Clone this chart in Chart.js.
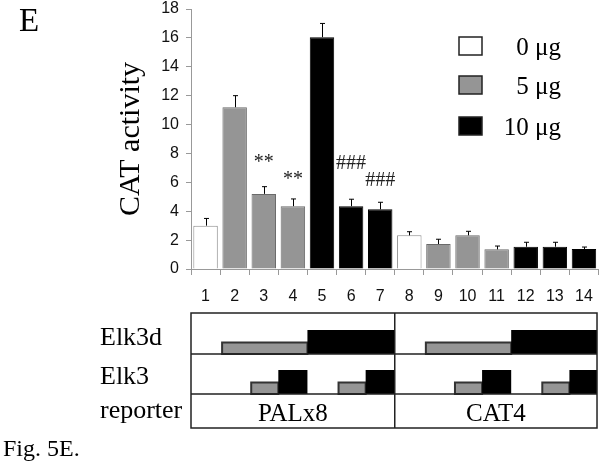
<!DOCTYPE html>
<html>
<head>
    <title>Fig. 5E</title>
    <script src="https://cdn.jsdelivr.net/npm/chart.js@4.4.0/dist/chart.umd.min.js"></script>
    <style>
        body { margin: 0; background: #fff; }
        #wrap { width: 605px; height: 464px; }
    </style>
</head>
<body>
<div id="wrap"><canvas id="grafico" width="605" height="464"></canvas></div>
<script>
    // lanes and values
    var lanes = ['1', '2', '3', '4', '5', '6', '7', '8', '9', '10', '11', '12', '13', '14'];
    var doses = [0, 5, 5, 5, 10, 10, 10, 0, 5, 5, 5, 10, 10, 10];
    var catActivity = [3.0, 11.2, 5.2, 4.35, 16.05, 4.35, 4.13, 2.33, 1.73, 2.33, 1.36, 1.54, 1.54, 1.38];
    var erros = [0.5, 0.8, 0.5, 0.5, 0.95, 0.48, 0.49, 0.25, 0.33, 0.28, 0.23, 0.31, 0.31, 0.14];
    var marcas = ['', '', '**', '**', '', '###', '###', '', '', '', '', '', '', ''];
    var alturaMarcas = [null, null, 7.5, 6.3, null, 7.3, 6.1, null, null, null, null, null, null, null];
    var doseValores = [0, 5, 10];
    var doseNomes = ['0 \u03bcg', '5 \u03bcg', '10 \u03bcg'];
    var yTicks = [0, 2, 4, 6, 8, 10, 12, 14, 16, 18];
    // diagram rows: 0 none, 1 = 5 ug (gray), 2 = 10 ug (black)
    var elk3d = [0, 1, 1, 1, 2, 2, 2, 0, 1, 1, 1, 2, 2, 2];
    var elk3 = [0, 0, 1, 2, 0, 1, 2, 0, 0, 1, 2, 0, 1, 2];
    var reporters = ['PALx8', 'CAT4'];

    var cores = ['#ffffff', '#959595', '#000000'];
    var bordas = ['#8a8a8a', '#6a6a6a', '#000000'];
    var serif = '"Liberation Serif", "Times New Roman", serif';
    var sans = '"Liberation Sans", Arial, sans-serif';

    var datasets = doseValores.map(function (d, k) {
        return {
            label: doseNomes[k],
            data: catActivity.map(function (v, i) { return doses[i] === d ? v : null; }),
            backgroundColor: cores[k],
            borderColor: bordas[k],
            borderWidth: 1,
            barPercentage: 0.84,
            categoryPercentage: 1
        };
    });

    var desenhos = {
        id: 'desenhos',
        afterDatasetsDraw: function (chart) {
            var ctx = chart.ctx;
            var x = chart.scales.x, y = chart.scales.y;
            ctx.save();
            // error bars
            ctx.strokeStyle = '#000';
            ctx.lineWidth = 1;
            catActivity.forEach(function (v, i) {
                var px = Math.round(x.getPixelForValue(i)) + 0.5;
                var top = y.getPixelForValue(v + erros[i]);
                ctx.beginPath();
                ctx.moveTo(px, y.getPixelForValue(v));
                ctx.lineTo(px, top);
                ctx.moveTo(px - 2.5, top);
                ctx.lineTo(px + 2.5, top);
                ctx.stroke();
            });
            // significance marks
            ctx.fillStyle = '#222';
            ctx.font = '20px ' + serif;
            ctx.textAlign = 'center';
            ctx.textBaseline = 'middle';
            marcas.forEach(function (m, i) {
                if (!m) return;
                var py = y.getPixelForValue(alturaMarcas[i]);
                ctx.fillText(m, x.getPixelForValue(i), m === '**' ? py + 2 : py);
            });
            ctx.restore();
        },
        afterDraw: function (chart) {
            var ctx = chart.ctx;
            var x = chart.scales.x;
            var area = chart.chartArea;
            var w = (area.right - area.left) / lanes.length;
            ctx.save();
            ctx.fillStyle = '#000';
            ctx.textBaseline = 'alphabetic';

            // panel letter and caption
            ctx.font = '33px ' + serif;
            ctx.textAlign = 'left';
            ctx.fillText('E', 19, 31);
            ctx.font = '24px ' + serif;
            ctx.fillText('Fig. 5E.', 3, 456);

            // legend
            var legY = [46, 85, 126];
            doseNomes.forEach(function (n, k) {
                ctx.fillStyle = cores[k];
                ctx.fillRect(459, legY[k] - 9, 23, 18);
                ctx.strokeStyle = '#222';
                ctx.lineWidth = 1.5;
                ctx.strokeRect(459, legY[k] - 9, 23, 18);
                ctx.fillStyle = '#000';
                ctx.font = '25px ' + serif;
                ctx.textAlign = 'right';
                ctx.fillText(n, 561, legY[k] + 9);
            });

            // diagram table
            var left = x.getPixelForValue(0) - w / 2;
            var right = x.getPixelForValue(lanes.length - 1) + w / 2 - 1.5;
            var mid = x.getPixelForValue(6) + w / 2;
            var rows = [313, 354, 394, 428];
            ctx.font = '26px ' + serif;
            ctx.textAlign = 'left';
            ctx.fillText('Elk3d', 100, 345);
            ctx.fillText('Elk3', 100, 384);
            ctx.fillText('reporter', 100, 418);

            function faixa(arr, base) {
                var i = 0;
                while (i < arr.length) {
                    var t = arr[i];
                    var j = i;
                    while (j + 1 < arr.length && arr[j + 1] === t && (j + 1) % 7 !== 0) j++;
                    if (t > 0) {
                        var x0 = x.getPixelForValue(i) - w / 2;
                        var x1 = x.getPixelForValue(j) + w / 2;
                        if (t === 1) {
                            ctx.fillStyle = cores[1];
                            ctx.fillRect(x0 + 2, base - 11.5, x1 - x0 - 2, 11.5);
                            ctx.strokeStyle = '#333';
                            ctx.lineWidth = 2;
                            ctx.strokeRect(x0 + 2, base - 11.5, x1 - x0 - 2, 11.5);
                        } else {
                            ctx.fillStyle = '#000';
                            ctx.fillRect(x0, base - 24, Math.min(x1, right) - x0, 24);
                        }
                    }
                    i = j + 1;
                }
            }
            faixa(elk3d, rows[1]);
            faixa(elk3, rows[2]);

            ctx.strokeStyle = '#222';
            ctx.lineWidth = 1.5;
            ctx.strokeRect(left, rows[0], right - left, rows[3] - rows[0]);
            ctx.beginPath();
            ctx.moveTo(left, rows[1]); ctx.lineTo(right, rows[1]);
            ctx.moveTo(left, rows[2]); ctx.lineTo(right, rows[2]);
            ctx.moveTo(mid, rows[0]); ctx.lineTo(mid, rows[3]);
            ctx.stroke();

            ctx.fillStyle = '#000';
            ctx.font = '25px ' + serif;
            ctx.textAlign = 'center';
            ctx.fillText(reporters[0], (left + mid) / 2, 421);
            ctx.fillText(reporters[1], (mid + right) / 2, 421);
            ctx.restore();
        }
    };

    var ctx = document.getElementById('grafico').getContext('2d');
    var grafico = new Chart(ctx, {
        type: 'bar',
        data: { labels: lanes, datasets: datasets },
        options: {
            responsive: false,
            animation: false,
            devicePixelRatio: 1,
            layout: { padding: { left: 113, top: 9, right: 4, bottom: 0 } },
            plugins: {
                legend: { display: false },
                tooltip: { enabled: false }
            },
            scales: {
                x: {
                    stacked: true,
                    grid: { drawOnChartArea: false, drawTicks: true, tickLength: 6, color: '#999' },
                    border: { color: '#999' },
                    ticks: { color: '#111', font: { family: sans, size: 16 }, padding: 12, maxRotation: 0, autoSkip: false },
                    afterFit: function (s) { s.height = 195; }
                },
                y: {
                    stacked: true,
                    min: 0,
                    max: 18,
                    afterBuildTicks: function (s) { s.ticks = yTicks.map(function (v) { return { value: v }; }); },
                    grid: { drawOnChartArea: false, drawTicks: true, tickLength: 5, color: '#999' },
                    border: { color: '#999' },
                    ticks: { color: '#111', font: { family: sans, size: 16 }, padding: 7 },
                    title: { display: true, text: 'CAT activity', color: '#000', font: { family: serif, size: 30 }, padding: 0 },
                    afterFit: function (s) { s.width = 78; s.paddingTop = 0; s.paddingBottom = 0; }
                }
            }
        },
        plugins: [desenhos]
    });
</script>
</body>
</html>
